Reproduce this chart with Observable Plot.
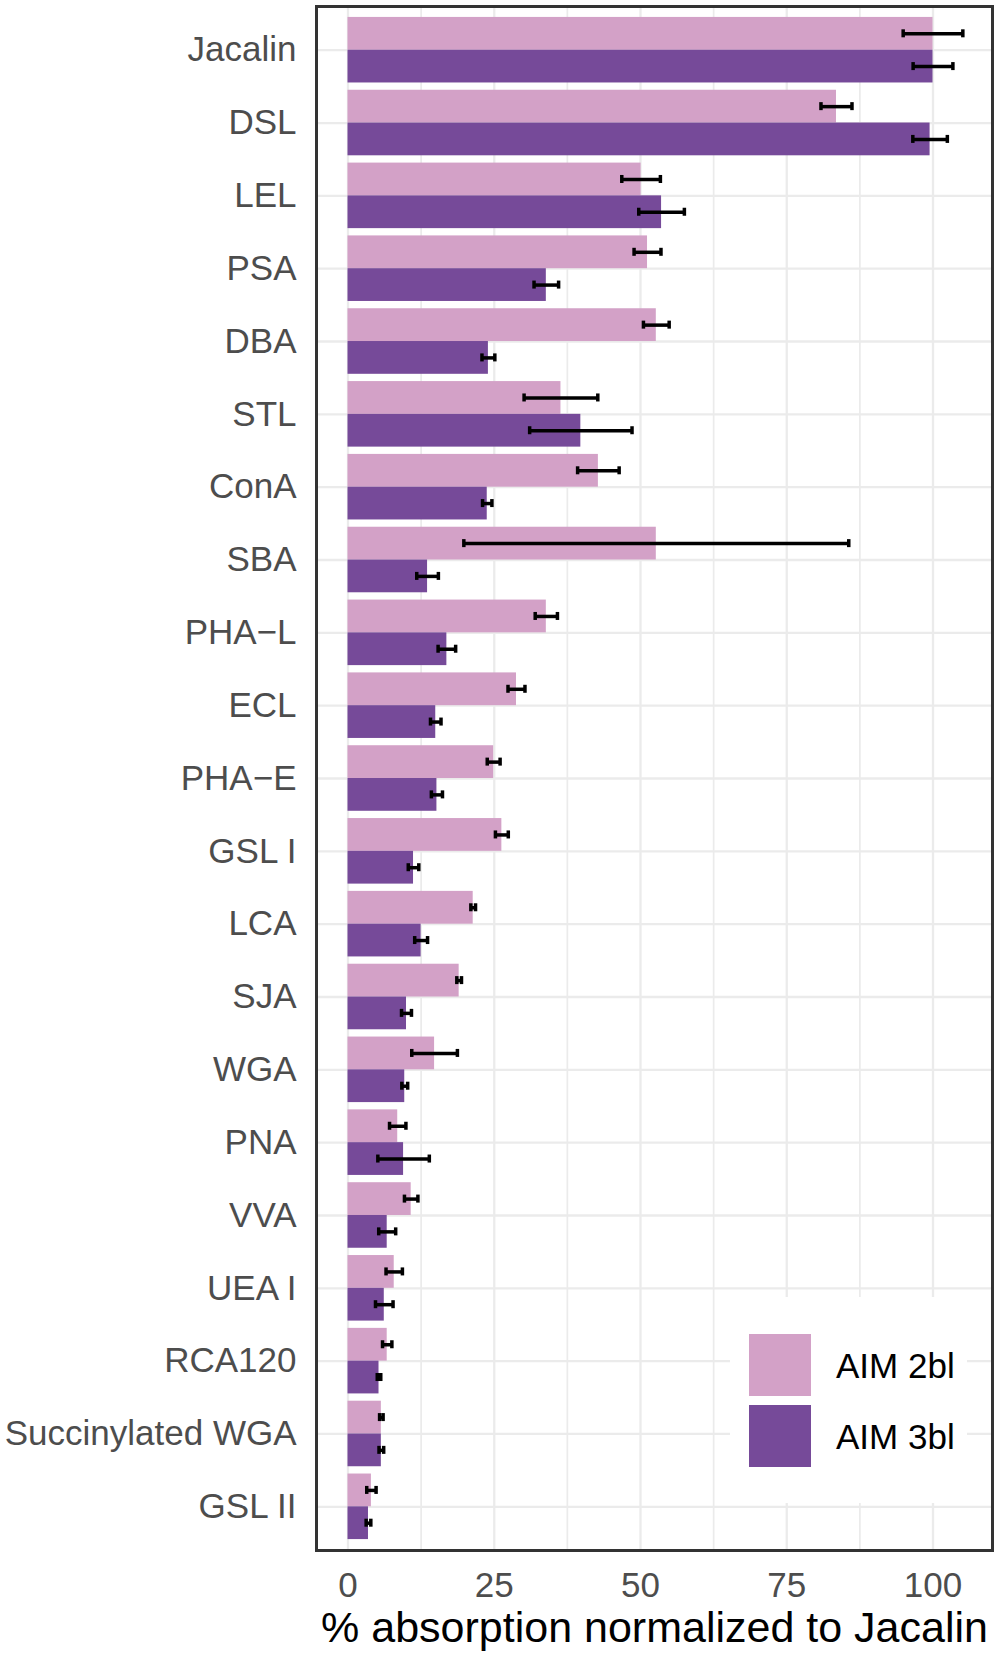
<!DOCTYPE html>
<html>
<head>
<meta charset="utf-8">
<script src="https://cdn.jsdelivr.net/npm/d3@7"></script>
<script src="https://cdn.jsdelivr.net/npm/@observablehq/plot@0.6"></script>
<style>
  html, body { margin: 0; padding: 0; background: #fff; }
  #wrap { position: relative; width: 1000px; height: 1661px; font-family: "Liberation Sans", Arial, sans-serif; }
  #legend { position: absolute; left: 730px; top: 1297px; width: 237px; height: 206px; background: #fff; }
  .key { position: absolute; left: 19px; width: 62px; height: 62px; }
  .lab { position: absolute; left: 106px; font-size: 35px; line-height: 35px; color: #000; white-space: nowrap; }
</style>
</head>
<body>
<div id="wrap">
  <div id="chart"></div>
  <div id="legend"></div>
</div>
<script>
const lectins = ["Jacalin","DSL","LEL","PSA","DBA","STL","ConA","SBA","PHA\u2212L","ECL","PHA\u2212E","GSL I","LCA","SJA","WGA","PNA","VVA","UEA I","RCA120","Succinylated WGA","GSL II"];
const seriesNames = ["AIM 2bl", "AIM 3bl"];
const seriesColors = ["#D3A1C7", "#764A99"];
const aim2 = [100, 83.5, 50.1, 51.2, 52.7, 36.4, 42.8, 52.7, 33.9, 28.8, 24.9, 26.3, 21.4, 19.0, 14.8, 8.5, 10.8, 7.9, 6.7, 5.7, 4.0];
const aim2err = [5.1, 2.65, 3.3, 2.3, 2.2, 6.3, 3.55, 32.9, 1.9, 1.45, 1.1, 1.1, 0.4, 0.4, 3.9, 1.4, 1.15, 1.4, 0.8, 0.3, 0.8];
const aim3 = [100, 99.5, 53.6, 33.9, 24.0, 39.8, 23.8, 13.6, 16.9, 15.0, 15.2, 11.2, 12.5, 10.0, 9.7, 9.5, 6.7, 6.2, 5.3, 5.7, 3.5];
const aim3err = [3.4, 2.95, 3.9, 2.1, 1.1, 8.75, 0.8, 1.85, 1.5, 0.9, 0.95, 0.9, 1.1, 0.85, 0.5, 4.4, 1.45, 1.5, 0.3, 0.4, 0.4];
const xTicks = [0, 25, 50, 75, 100];
const xMinor = [12.5, 37.5, 62.5, 87.5];
const xTitle = "% absorption normalized to Jacalin";

// build table
const rows = [];
lectins.forEach((name, i) => {
  rows.push({lectin: name, i, series: seriesNames[0], value: aim2[i], err: aim2err[i], off: -1});
  rows.push({lectin: name, i, series: seriesNames[1], value: aim3[i], err: aim3err[i], off: 1});
});
const half = 0.45;          // half of the 0.9 group width
const sub = half / 2;       // centre of each sub-bar from group centre
const cap = 0.055;          // half of cap length

const marks = [
  Plot.ruleX(xMinor, {stroke: "#EBEBEB", strokeWidth: 1.7}),
  Plot.ruleX(xTicks, {stroke: "#EBEBEB", strokeWidth: 2.3}),
  Plot.ruleY(d3.range(lectins.length), {stroke: "#EBEBEB", strokeWidth: 2.3}),
  Plot.rect(rows, {
    x1: () => 0, x2: "value",
    y1: d => d.off < 0 ? d.i - half : d.i,
    y2: d => d.off < 0 ? d.i : d.i + half,
    fill: "series"
  }),
  Plot.ruleY(rows, {y: d => d.i + d.off * sub, x1: d => d.value - d.err, x2: d => d.value + d.err, stroke: "#000", strokeWidth: 3.5}),
  Plot.ruleX(rows, {x: d => d.value - d.err, y1: d => d.i + d.off * sub - cap, y2: d => d.i + d.off * sub + cap, stroke: "#000", strokeWidth: 3.5}),
  Plot.ruleX(rows, {x: d => d.value + d.err, y1: d => d.i + d.off * sub - cap, y2: d => d.i + d.off * sub + cap, stroke: "#000", strokeWidth: 3.5}),
  Plot.axisX({ticks: xTicks, tickSize: 0, tickPadding: 22, fontSize: 35, color: "#4D4D4D", label: null}),
  Plot.axisY({ticks: d3.range(lectins.length), tickFormat: i => lectins[i], tickSize: 0, tickPadding: 20, fontSize: 35, color: "#4D4D4D", label: null}),
  Plot.text([xTitle], {text: d => d, frameAnchor: "bottom", dy: 91, fontSize: 43, fill: "#000"}),
  Plot.frame({stroke: "#333", strokeWidth: 3})
];

const chart = Plot.plot({
  width: 1000,
  height: 1661,
  marginLeft: 316,
  marginRight: 8,
  marginTop: 6,
  marginBottom: 111,
  style: {fontFamily: "'Liberation Sans', Arial, sans-serif", background: "#fff", overflow: "visible"},
  x: {domain: [-5.385, 110.17], axis: null},
  y: {domain: [-0.6, 20.6], reverse: true, axis: null},
  color: {domain: seriesNames, range: seriesColors},
  marks
});
document.getElementById("chart").appendChild(chart);

// legend
const leg = document.getElementById("legend");
seriesNames.forEach((s, k) => {
  const key = document.createElement("div");
  key.className = "key";
  key.style.top = (37 + k * 71) + "px";
  key.style.background = seriesColors[k];
  leg.appendChild(key);
  const lab = document.createElement("div");
  lab.className = "lab";
  lab.style.top = (51 + k * 70.5) + "px";
  lab.textContent = s;
  leg.appendChild(lab);
});
</script>
</body>
</html>
